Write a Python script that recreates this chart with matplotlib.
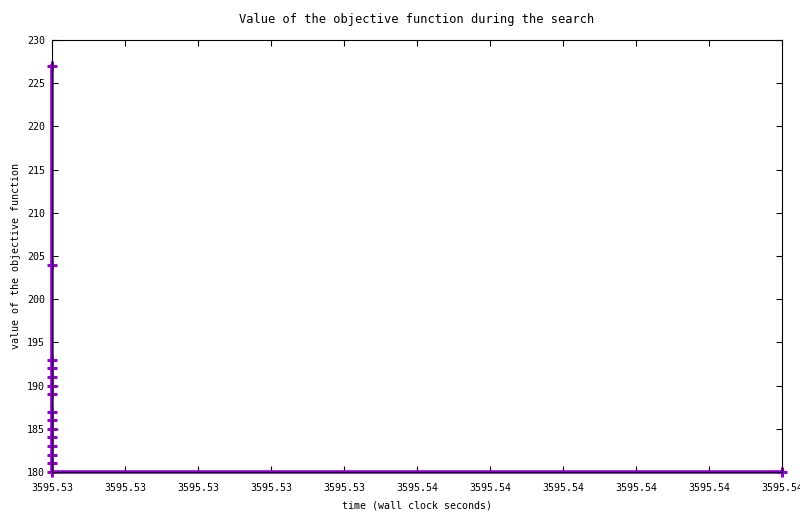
import numpy as np
import matplotlib
matplotlib.use('Agg')
import matplotlib.pyplot as plt

# objective values found during the search (all at the start time), then the final one
t_start = 3595.530
t_end = 3595.540
values = [227, 204, 193, 192, 191, 190, 189, 187, 186, 185, 184, 183, 182, 181, 180]
times = [t_start] * len(values) + [t_end]
values = values + [180]

xticks = np.linspace(t_start, t_end, 11)
xlabels = ['3595.53'] * 5 + ['3595.54'] * 5 + ['3595.54']
yticks = np.arange(180, 231, 5)

plt.rcParams['font.family'] = 'DejaVu Sans Mono'
plt.rcParams['font.size'] = 7.2

fig = plt.figure(figsize=(8.0, 5.14), dpi=100)
ax = fig.add_axes([52 / 800, 42 / 514, 730 / 800, 432 / 514])

ax.plot(times, values, color='#9400D3', linewidth=2.6, marker='+',
        markersize=6.5, markeredgewidth=2.2, clip_on=False, zorder=2)

ax.set_xlim(t_start, t_end)
ax.set_ylim(180, 230)
ax.set_xticks(xticks)
ax.set_xticklabels(xlabels)
ax.set_yticks(yticks)
ax.tick_params(direction='in', length=4, width=0.8, top=True, right=True)
ax.tick_params(axis='x', pad=8)
ax.tick_params(axis='y', pad=5)
for s in ax.spines.values():
    s.set_linewidth(0.8)
    s.set_zorder(3)

ax.set_title('Value of the objective function during the search', pad=12)
ax.set_xlabel('time (wall clock seconds)', labelpad=5)
ax.set_ylabel('value of the objective function', labelpad=4)

fig.savefig('out.png', dpi=100)
